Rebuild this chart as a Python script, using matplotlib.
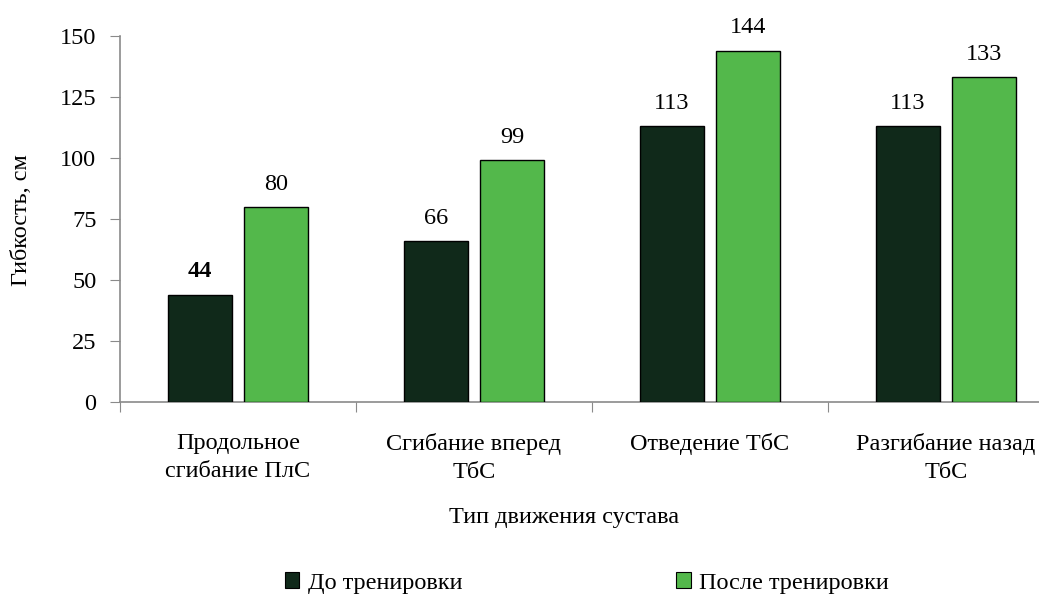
import matplotlib
matplotlib.use("Agg")
import matplotlib.pyplot as plt
import numpy as np
from matplotlib.patches import Patch

categories = ["Продольное\nсгибание ПлС", "Сгибание вперед\nТбС", "Отведение ТбС", "Разгибание назад\nТбС"]
before = [44, 66, 113, 113]
after = [80, 99, 144, 133]
series_names = ["До тренировки", "После тренировки"]
yticks = [0, 25, 50, 75, 100, 125, 150]

dark = "#10291a"
light = "#53b84b"
axis_gray = "#8a8a8a"
fs = 17.5

plt.rcParams["font.family"] = ["Liberation Serif", "DejaVu Serif"]

W, H = 1039, 596
fig = plt.figure(figsize=(W / 100, H / 100), dpi=100)
# plot area runs past the right edge of the figure
ax = fig.add_axes([120 / W, 194 / H, 944 / W, 366 / H])

x = np.arange(len(categories))
bw = 0.275
gap = 0.047
b1 = ax.bar(x - (bw + gap) / 2, before, bw, color=dark, edgecolor="black", linewidth=1.0, zorder=3)
b2 = ax.bar(x + (bw + gap) / 2, after, bw, color=light, edgecolor="black", linewidth=1.0, zorder=3)

for i, (r, v) in enumerate(zip(b1, before)):
    ax.text(r.get_x() + r.get_width() / 2, v + 5, str(v), ha="center", va="bottom",
            fontsize=fs, fontweight="bold" if i == 0 else "normal")
for r, v in zip(b2, after):
    ax.text(r.get_x() + r.get_width() / 2, v + 5, str(v), ha="center", va="bottom", fontsize=fs)

ax.set_xlim(-0.5, len(categories) - 0.5)
ax.set_ylim(0, 150)
ax.set_yticks(yticks)
ax.set_yticklabels([str(t) for t in yticks], fontsize=fs)
ax.set_xticks(np.arange(len(categories) + 1) - 0.5)
ax.set_xticklabels([])
ax.set_xticks(x, minor=True)
ax.set_xticklabels(categories, minor=True, fontsize=fs, linespacing=1.45)
ax.tick_params(axis="x", which="minor", length=0, pad=22)
ax.tick_params(axis="x", which="major", length=7, color=axis_gray, direction="out")
ax.tick_params(axis="y", length=7, color=axis_gray, direction="out", pad=10)

for s in ["top", "right"]:
    ax.spines[s].set_visible(False)
for s in ["left", "bottom"]:
    ax.spines[s].set_color(axis_gray)
    ax.spines[s].set_linewidth(1.2)

fig.text(22 / W, 1 - 220 / H, "Гибкость, см", rotation=90, ha="center", va="center", fontsize=fs)
fig.text(564 / W, 1 - 518 / H, "Тип движения сустава", ha="center", va="center", fontsize=fs)

handles = [Patch(facecolor=dark, edgecolor="black", linewidth=0.8),
           Patch(facecolor=light, edgecolor="black", linewidth=0.8)]
fig.legend(handles, series_names, loc="center", bbox_to_anchor=(587 / W, 1 - 583 / H), ncol=2,
           frameon=False, fontsize=fs, handlelength=0.6, handleheight=0.6, handletextpad=0.35,
           columnspacing=8.8)

fig.savefig("out.png", dpi=100)
